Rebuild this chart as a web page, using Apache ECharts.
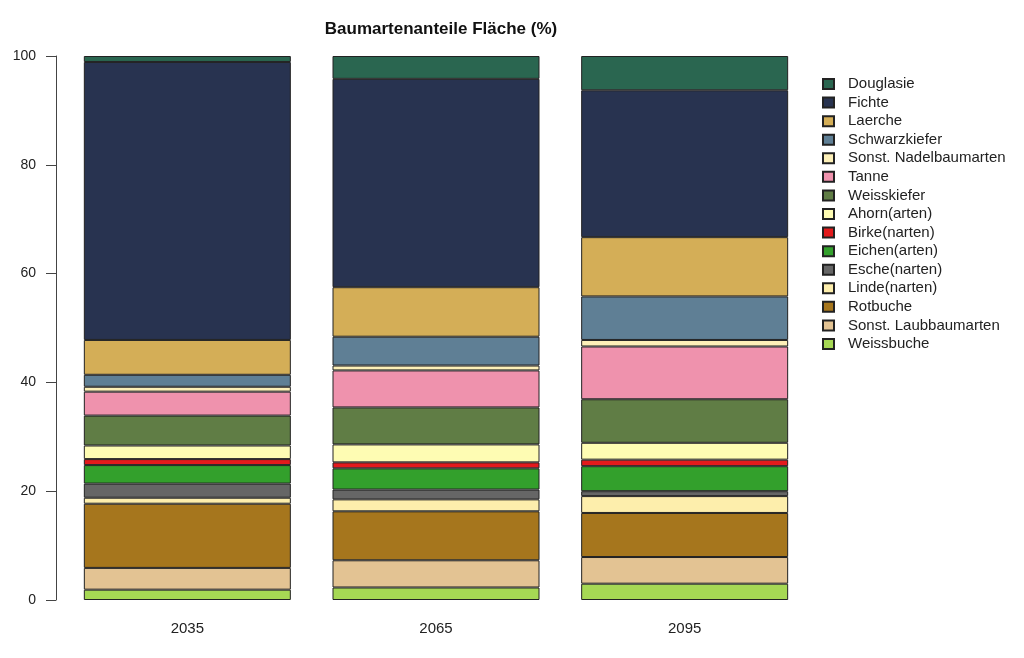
<!DOCTYPE html>
<html>
<head>
  <meta charset="utf-8">
  <title>Baumartenanteile Fläche</title>
  <script src="https://cdn.jsdelivr.net/npm/echarts@6/dist/echarts.min.js"></script>
  <style>
    html, body { margin: 0; padding: 0; background: #fff; }
    #chart { width: 1024px; height: 658px; }
  </style>
</head>
<body>
<div id="chart"></div>
<script>
// Jahre (x-Achse)
var years = ['2035', '2065', '2095'];
var yTicks = [0, 20, 40, 60, 80, 100];

// Baumarten von unten nach oben gestapelt
var species = ['Weissbuche', 'Sonst. Laubbaumarten', 'Rotbuche', 'Linde(narten)', 'Esche(narten)',
  'Eichen(arten)', 'Birke(narten)', 'Ahorn(arten)', 'Weisskiefer', 'Tanne',
  'Sonst. Nadelbaumarten', 'Schwarzkiefer', 'Laerche', 'Fichte', 'Douglasie'];

var colors = ['#a6d854', '#e3c393', '#a6761d', '#fdeeac', '#666666',
  '#33a02c', '#e31a1c', '#fefcb3', '#607d45', '#ef92ad',
  '#fdf0b8', '#5f7f95', '#d4ae57', '#283350', '#2a6650'];

// Anteile in % je Jahr (2035, 2065, 2095)
var weissbuche = [1.9, 2.3, 3.0];
var laubSonst  = [4.0, 5.0, 4.9];
var rotbuche   = [11.8, 9.0, 8.1];
var linde      = [1.1, 2.2, 3.1];
var esche      = [2.6, 1.8, 0.9];
var eichen     = [3.4, 3.9, 4.6];
var birke      = [1.1, 1.1, 1.2];
var ahorn      = [2.5, 3.3, 3.1];
var weisskiefer = [5.5, 6.8, 8.0];
var tanne      = [4.4, 6.8, 9.7];
var nadelSonst = [0.9, 0.9, 1.2];
var schwarzkiefer = [2.2, 5.3, 8.0];
var laerche    = [6.4, 9.1, 10.9];
var fichte     = [51.1, 38.3, 27.0];
var douglasie  = [1.1, 4.2, 6.3];

var values = [weissbuche, laubSonst, rotbuche, linde, esche, eichen, birke, ahorn,
  weisskiefer, tanne, nadelSonst, schwarzkiefer, laerche, fichte, douglasie];

var font = 'Liberation Sans, Arial, sans-serif';

var series = species.map(function (name, i) {
  return {
    name: name,
    type: 'bar',
    stack: 'total',
    barWidth: 207,
    data: values[i],
    itemStyle: { color: colors[i], borderColor: '#222', borderWidth: 1 },
    emphasis: { disabled: true }
  };
});

var myChart = echarts.init(document.getElementById('chart'));
var option = {
  animation: false,
  textStyle: { fontFamily: font },
  title: {
    text: 'Baumartenanteile Fläche (%)',
    left: 436,
    top: 16,
    textAlign: 'center',
    textStyle: { fontFamily: font, fontSize: 17, fontWeight: 'bold', color: '#111' }
  },
  grid: { left: 63, right: 215, top: 56, bottom: 58, containLabel: false },
  legend: {
    orient: 'vertical',
    left: 822,
    top: 76.5,
    padding: 0,
    itemWidth: 11,
    itemHeight: 10,
    itemGap: 3.57,
    icon: 'rect',
    selectedMode: false,
    data: species.slice().reverse(),
    textStyle: { fontFamily: font, fontSize: 15, color: '#222', lineHeight: 15, padding: [0, 0, 0, 9] }
  },
  xAxis: {
    type: 'category',
    data: years,
    axisLine: { show: false },
    axisTick: { show: false },
    axisLabel: { margin: 21, fontSize: 15, color: '#222', fontFamily: font }
  },
  yAxis: {
    type: 'value',
    min: 0,
    max: 100,
    interval: 20,
    offset: 7,
    splitLine: { show: false },
    axisLine: { show: true, lineStyle: { color: '#444', width: 1 } },
    axisTick: { show: true, length: 10, lineStyle: { color: '#444' } },
    axisLabel: {
      margin: 20, fontSize: 14, color: '#222', fontFamily: font,
      formatter: function (v) { return yTicks.indexOf(v) >= 0 ? String(v) : ''; }
    }
  },
  series: series
};
myChart.setOption(option);
</script>
</body>
</html>
